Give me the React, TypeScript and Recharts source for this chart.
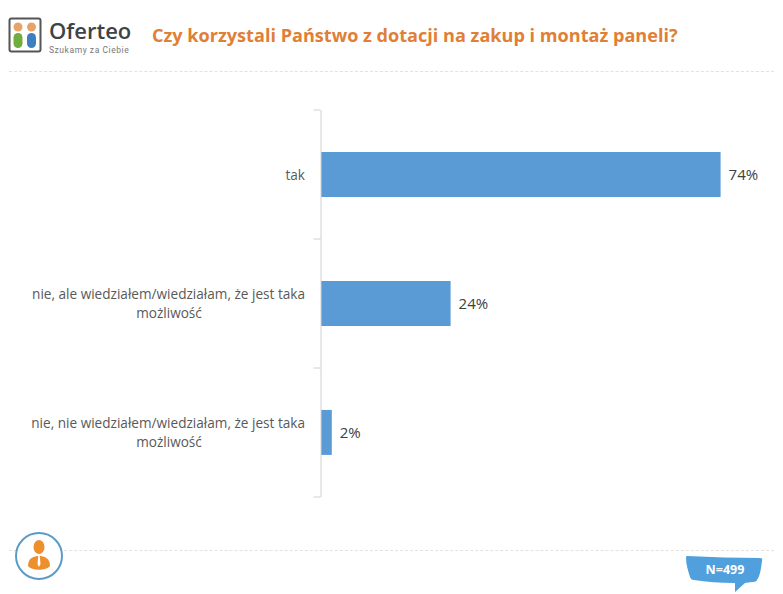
import { Bar, BarChart, LabelList, XAxis, YAxis } from "recharts"

const categories = [
  "tak",
  "nie, ale wiedziałem/wiedziałam, że jest taka możliwość",
  "nie, nie wiedziałem/wiedziałam, że jest taka możliwość",
]
const values = [74, 24, 2]
const wrapped: Record<string, string[]> = {
  [categories[0]]: ["tak"],
  [categories[1]]: ["nie, ale wiedziałem/wiedziałam, że jest taka", "możliwość"],
  [categories[2]]: ["nie, nie wiedziałem/wiedziałam, że jest taka", "możliwość"],
}

const data = categories.map((name, i) => ({ name, value: values[i] }))

const font = "'Open Sans', 'Noto Sans', sans-serif"
const plotHeight = 387
const step = plotHeight / categories.length
const axisColor = "#d0d0d0"

function CategoryTick({ y, payload, index }: any) {
  const axisX = 320.5
  const right = 305
  const lines = wrapped[payload.value] ?? [payload.value]
  return (
    <g fontSize={13.6} fontFamily={font} fill="#595959">
      <line x1={axisX - 7} x2={axisX} y1={y + step / 2} y2={y + step / 2} stroke={axisColor} />
      {index === 0 && <line x1={axisX - 7} x2={axisX} y1={y - step / 2} y2={y - step / 2} stroke={axisColor} />}
      {lines.length === 1 ? (
        <text x={right} y={y + 5} textAnchor="end">{lines[0]}</text>
      ) : (
        <>
          <text x={right} y={y - 5} textAnchor="end">{lines[0]}</text>
          <text x={right - 136} y={y + 14} textAnchor="middle">{lines[1]}</text>
        </>
      )}
    </g>
  )
}

function Logo() {
  return (
    <svg width={130} height={56} style={{ position: "absolute", left: 8, top: 16 }}>
      <rect x={1.5} y={2.5} width={31} height={33} rx={2} fill="#fff" stroke="#555" strokeWidth={2} />
      <circle cx={10} cy={11} r={4.5} fill="#e8a468" />
      <circle cx={23.5} cy={11} r={4.5} fill="#e8a468" />
      <rect x={5.5} y={17} width={9} height={15} rx={4.5} fill="#6fae3e" />
      <rect x={19} y={17} width={9} height={15} rx={4.5} fill="#3f7fc0" />
      <text x={41} y={23} fontSize={22} fontWeight={600} fontFamily="'Open Sans', sans-serif" fill="#3d4347">Oferteo</text>
      <text x={41} y={37} fontSize={8.5} letterSpacing={0.55} fontFamily="Roboto, sans-serif" fill="#777">Szukamy za Ciebie</text>
    </svg>
  )
}

function Person() {
  return (
    <svg width={50} height={54} style={{ position: "absolute", left: 14, top: 530 }}>
      <circle cx={25} cy={26} r={23} fill="#fff" stroke="#5b9bc6" strokeWidth={2} />
      <ellipse cx={25} cy={17} rx={5.5} ry={7} fill="#ee8f2d" />
      <path d="M14 36 C14 28 20 26 25 26 C30 26 36 28 36 36 C32 41 18 41 14 36Z" fill="#ee8f2d" />
      <path d="M24.2 26 L25.8 26 L26.5 34 L25 37 L23.5 34Z" fill="#fff" />
    </svg>
  )
}

function Badge() {
  return (
    <svg width={80} height={40} style={{ position: "absolute", left: 684, top: 555 }}>
      <path d="M3 1 C28 2 52 3 76 3 Q79 3 78 6 C77 14 76 21 73 25 Q72 27 68 27 L61 28 L51 37 L51 28 C36 28 22 27 10 25 Q7 25 6 22 C4 16 2 9 2 3 Q2 1 3 1Z" fill="#4fa0dd" />
      <text x={41} y={19} textAnchor="middle" fontSize={12.5} fontWeight={700} fontFamily={font} fill="#fff">N=499</text>
    </svg>
  )
}

export default function App() {
  return (
    <div style={{ position: "absolute", left: 0, top: 0, width: 783, height: 594, background: "#fff", overflow: "hidden" }}>
      <Logo />
      <div
        style={{
          position: "absolute",
          left: 152,
          top: 23,
          fontFamily: font,
          fontSize: 18.1,
          fontWeight: 700,
          color: "#e07f35",
          whiteSpace: "nowrap",
        }}
      >
        Czy korzystali Państwo z dotacji na zakup i montaż paneli?
      </div>
      <div style={{ position: "absolute", left: 9, right: 9, top: 71, borderTop: "1px dashed #e2e2e2" }} />
      <div style={{ position: "absolute", left: 9, right: 9, top: 550, borderTop: "1px dashed #e2e2e2" }} />

      <div style={{ position: "absolute", left: 0, top: 0 }}>
        <BarChart
          width={783}
          height={594}
          data={data}
          layout="vertical"
          barCategoryGap="32.5%"
          margin={{ top: 110, right: 30, bottom: 97, left: 0 }}
        >
          <XAxis type="number" domain={[0, 80]} hide />
          <YAxis
            type="category"
            dataKey="name"
            width={321}
            axisLine={{ stroke: axisColor }}
            tickLine={false}
            tick={<CategoryTick />}
            interval={0}
          />
          <Bar dataKey="value" fill="#5b9bd5" isAnimationActive={false}>
            <LabelList
              dataKey="value"
              position="right"
              offset={8}
              formatter={(v: number) => `${v}%`}
              style={{ fontFamily: font, fontSize: 15, fill: "#404040" }}
            />
          </Bar>
        </BarChart>
      </div>

      <Person />
      <Badge />
    </div>
  )
}
